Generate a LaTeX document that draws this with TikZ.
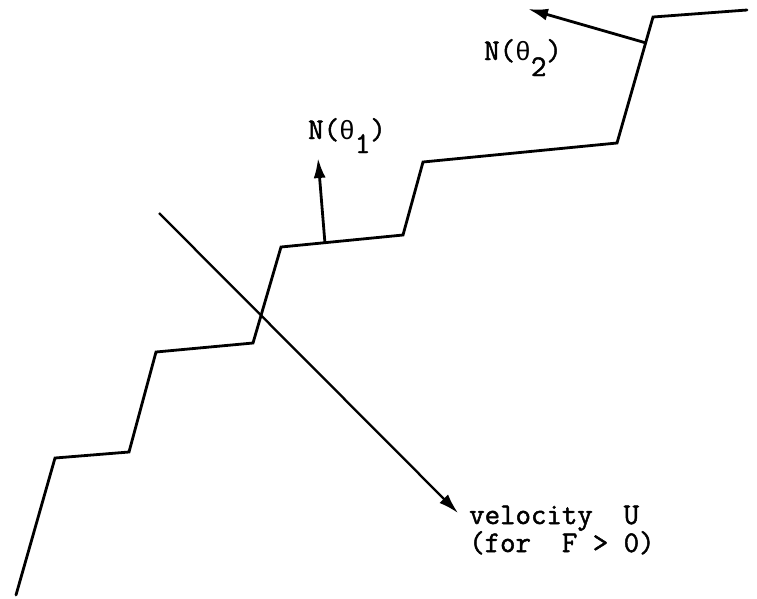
\documentclass[tikz,border=0pt]{standalone}
\usepackage{fontspec}
\setmonofont{Latin Modern Mono}[FakeBold=1.6]
\newfontfamily\grk{Liberation Mono}[Scale=0.88]
\usetikzlibrary{arrows.meta,calc}
\begin{document}
\begin{tikzpicture}[x=1pt,y=-1pt,
  edge/.style={line width=2.8pt,line join=miter,line cap=round},
  normalarrow/.style={line width=2.8pt,-{Latex[length=20pt,width=12pt]}},
  velarrow/.style={line width=2.3pt,-{Latex[length=20pt,width=12pt]}},
  lbl/.style={inner sep=0pt,font=\ttfamily\fontsize{30}{28}\selectfont,anchor=base west}]
\useasboundingbox (0,0) rectangle (757,598);
% staircase vertices
\coordinate (s0) at (16,595);
\coordinate (s1) at (55,458);
\coordinate (s2) at (129,452);
\coordinate (s3) at (156,352);
\coordinate (s4) at (253,343);
\coordinate (s5) at (281,247);
\coordinate (s6) at (403,235);
\coordinate (s7) at (423,162);
\coordinate (s8) at (617,143);
\coordinate (s9) at (653,17);
\coordinate (s10) at (747,10);
\draw[edge] (s0) -- (s1) -- (s2) -- (s3) -- (s4) -- (s5) -- (s6) -- (s7) -- (s8) -- (s9) -- (s10);
% normals
\coordinate (n1base) at ($(s5)!0.36!(s6)$);
\coordinate (n1tip) at (318,158);
\coordinate (n2base) at ($(s8)!0.795!(s9)$);
\coordinate (n2tip) at (528,9);
\draw[normalarrow] (n1base) -- (n1tip);
\draw[normalarrow] (n2base) -- (n2tip);
% velocity
\coordinate (vstart) at (159,213);
\coordinate (vtip) at (458,513);
\draw[velarrow] (vstart) -- (vtip);
% labels
\node[lbl] (lab1) at (308,139) {N({\grk θ}\raisebox{-14pt}{1})};
\node[lbl] (lab2) at (484,60) {N({\grk θ}\raisebox{-16pt}{2})};
\node[lbl] (vel1) at (469,524) {velocity\ \ U};
\node[lbl] (vel2) at (469,552) {(for\ \ F > 0)};
\end{tikzpicture}
\end{document}
